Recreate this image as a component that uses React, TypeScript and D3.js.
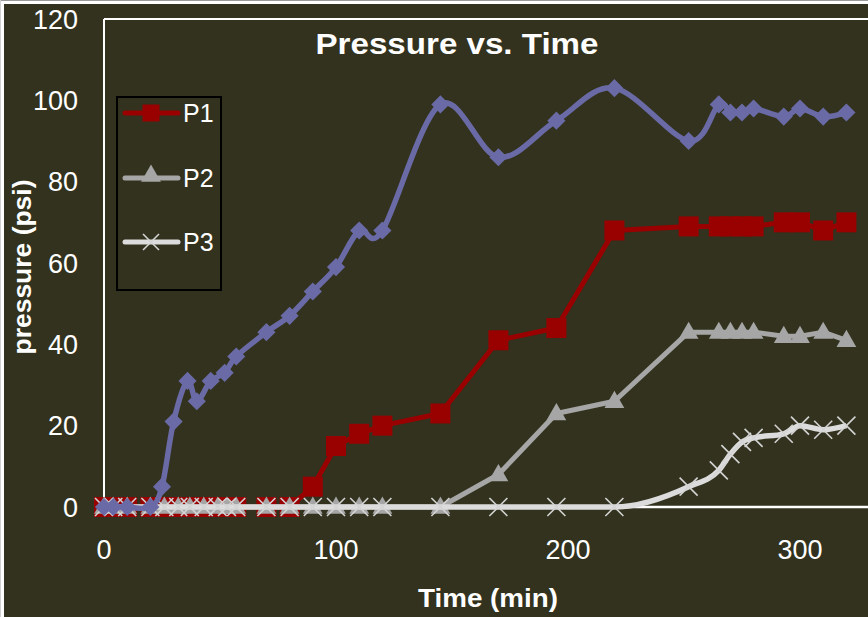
import React from "react";
import * as d3 from "d3";

// ---- data ----
const timesP0 = [0, 4, 10, 20, 25, 30, 36, 40, 46, 52, 57, 70, 80, 90, 100, 110, 120, 145, 170, 195, 220, 252, 265, 270, 275, 280, 293, 300, 310, 320];
const valuesP0 = [0, 0, 0, 0, 5, 21, 31, 26, 31, 33, 37, 43, 47, 53, 59, 68, 68, 99, 86, 95, 103, 90, 99, 97, 97, 98, 96, 98, 96, 97];

const timesP = [0, 4, 10, 20, 26, 32, 37, 43, 49, 53, 57, 70, 80, 90, 100, 110, 120, 145, 170, 195, 220, 252, 265, 270, 275, 280, 293, 300, 310, 320];
const valuesP1 = [0, 0, 0, 0, 0, 0, 0, 0, 0, 0, 0, 0, 0, 5, 15, 18, 20, 23, 41, 44, 68, 69, 69, 69, 69, 69, 70, 70, 68, 70];
const valuesP2 = [0, 0, 0, 0, 0, 0, 0, 0, 0, 0, 0, 0, 0, 0, 0, 0, 0, 0, 8, 23, 26, 43, 43, 43, 43, 43, 42, 42, 43, 41];
const valuesP3 = [0, 0, 0, 0, 0, 0, 0, 0, 0, 0, 0, 0, 0, 0, 0, 0, 0, 0, 0, 0, 0, 5, 9, 13, 16, 17, 18, 20, 19, 20];

const xTicks = [0, 100, 200, 300];
const yTicks = [0, 20, 40, 60, 80, 100, 120];
const legendNames = ["P1", "P2", "P3"];

const BG = "#32321e";
const BLUE = "#6a6aa6";
const RED = "#990000";
const GRAY = "#a6a6a6";
const LIGHT = "#dcdcdc";
const FONT = "'Liberation Sans', Arial, sans-serif";

export default function App() {
  const x = d3.scaleLinear().domain([0, 330]).range([104, 869.6]);
  const y = d3.scaleLinear().domain([0, 120]).range([507, 19]);

  const toPts = (ts: number[], vs: number[]) => ts.map((t, i) => [x(t), y(vs[i])] as [number, number]);
  const p0 = toPts(timesP0, valuesP0);
  const p1 = toPts(timesP, valuesP1);
  const p2 = toPts(timesP, valuesP2);
  const p3 = toPts(timesP, valuesP3);

  const straight = d3.line();
  const smooth = d3.line().curve(d3.curveCardinal.tension(0));
  const smoothMono = d3.line().curve(d3.curveMonotoneX);

  const sq = d3.symbol().type(d3.symbolSquare).size(400)();
  const sqLeg = d3.symbol().type(d3.symbolSquare).size(289)();
  const tri = d3.symbol().type(d3.symbolTriangle).size(170)();
  const dia = d3.symbol().type(d3.symbolSquare).size(165)();

  const xMark = (cx: number, cy: number, k: string, r = 9) => (
    <g key={k}>
      <line x1={cx - r} y1={cy - r} x2={cx + r} y2={cy + r} stroke="#d4d4d4" strokeWidth={1.6} />
      <line x1={cx - r} y1={cy + r} x2={cx + r} y2={cy - r} stroke="#d4d4d4" strokeWidth={1.6} />
    </g>
  );

  const legY = [113, 178, 242];

  return (
    <svg width={868} height={617} style={{ position: "absolute", left: 0, top: 0, display: "block" }} fontFamily={FONT}>
      <rect x={0} y={0} width={868} height={617} fill="#ffffff" />
      <rect x={0} y={0} width={868} height={1} fill="#9a9a9a" />
      <rect x={0} y={0} width={1} height={617} fill="#d0d0d0" />
      <rect x={4} y={4} width={864} height={613} fill={BG} />

      {/* plot borders */}
      <line x1={104} y1={19} x2={868} y2={19} stroke="#ffffff" strokeWidth={2} />
      <line x1={104} y1={19} x2={104} y2={507} stroke="#ffffff" strokeWidth={2} />
      <line x1={104} y1={507} x2={868} y2={507} stroke="#ffffff" strokeWidth={2.5} />

      {/* y ticks */}
      {yTicks.map((v) => (
        <text key={"y" + v} x={78} y={y(v)} dy="0.36em" textAnchor="end" fill="#ffffff" fontSize={27}>
          {v}
        </text>
      ))}
      {/* x ticks */}
      {xTicks.map((v) => (
        <text key={"x" + v} x={x(v)} y={549} dy="0.36em" textAnchor="middle" fill="#ffffff" fontSize={27}>
          {v}
        </text>
      ))}

      {/* P1 */}
      <path d={straight(p1) || ""} fill="none" stroke={RED} strokeWidth={5} strokeLinejoin="round" />
      {p1.map((p, i) => (
        <path key={"s" + i} d={sq || ""} transform={`translate(${p[0]},${p[1]})`} fill={RED} />
      ))}
      {/* P2 */}
      <path d={straight(p2) || ""} fill="none" stroke={GRAY} strokeWidth={5} strokeLinejoin="round" />
      {p2.map((p, i) => (
        <path key={"t" + i} d={tri || ""} transform={`translate(${p[0]},${p[1] + 1})`} fill={GRAY} />
      ))}
      {/* P3 */}
      <path d={smoothMono(p3) || ""} fill="none" stroke={LIGHT} strokeWidth={5.5} strokeLinejoin="round" />
      {p3.map((p, i) => xMark(p[0], p[1], "x" + i))}
      {/* P0 (blue, not in legend) */}
      <path d={smooth(p0) || ""} fill="none" stroke={BLUE} strokeWidth={5.5} strokeLinejoin="round" />
      {p0.map((p, i) => (
        <path key={"d" + i} d={dia || ""} transform={`translate(${p[0]},${p[1]}) rotate(45)`} fill={BLUE} />
      ))}

      {/* title */}
      <text x={457} y={54} textAnchor="middle" fill="#ffffff" fontSize={29} fontWeight="bold" textLength={283} lengthAdjust="spacingAndGlyphs">
        Pressure vs. Time
      </text>
      {/* axis titles */}
      <text transform="translate(31,267) rotate(-90)" textAnchor="middle" fill="#ffffff" fontSize={25} fontWeight="bold" textLength={175} lengthAdjust="spacingAndGlyphs">
        pressure (psi)
      </text>
      <text x={488} y={607} textAnchor="middle" fill="#ffffff" fontSize={25} fontWeight="bold" textLength={140} lengthAdjust="spacingAndGlyphs">
        Time (min)
      </text>

      {/* legend */}
      <rect x={117} y={97} width={104} height={193} fill="none" stroke="#000000" strokeWidth={2} />
      {legendNames.map((n, i) => {
        const ly = legY[i];
        const col = i === 0 ? RED : i === 1 ? GRAY : LIGHT;
        return (
          <g key={n}>
            <line x1={125} y1={ly} x2={178} y2={ly} stroke={col} strokeWidth={5} strokeLinecap="round" />
            {i === 0 && <path d={sqLeg || ""} transform={`translate(151,${ly})`} fill={RED} />}
            {i === 1 && <path d={tri || ""} transform={`translate(151,${ly - 2})`} fill={GRAY} />}
            {i === 2 && xMark(151, ly, "lx", 8)}
            <text x={183} y={ly + 9} fill="#ffffff" fontSize={25}>
              {n}
            </text>
          </g>
        );
      })}
    </svg>
  );
}
